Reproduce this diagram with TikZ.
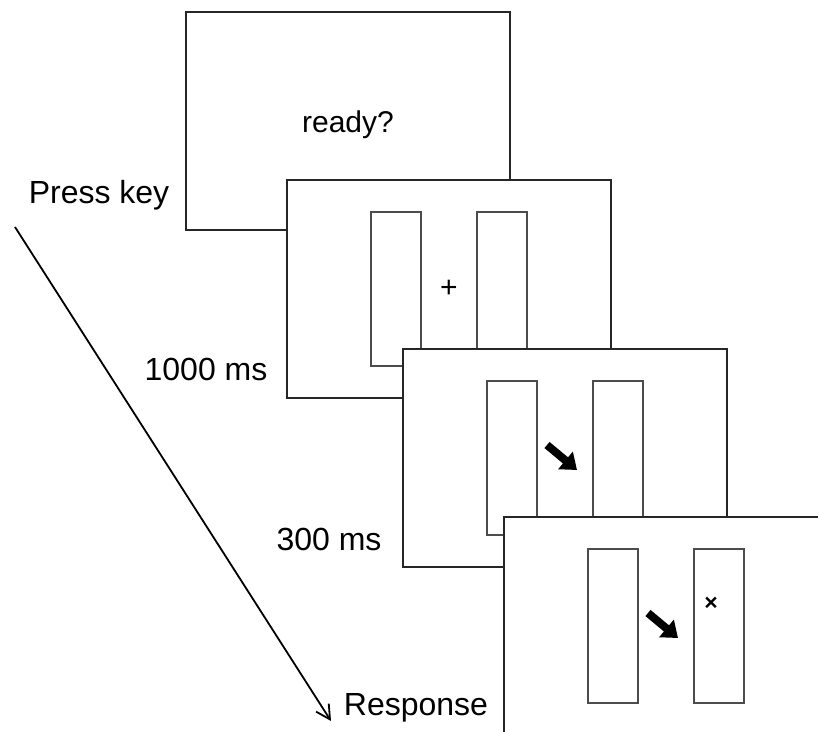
\documentclass[tikz,border=0pt]{standalone}
\usepackage{fontspec}
\setmainfont{Liberation Sans}
\usepackage{tikz}
\usetikzlibrary{arrows.meta}

\begin{document}
\begin{tikzpicture}[x=1pt, y=-1pt,
  screen/.style={draw=black!85, line width=1.7pt, fill=white, minimum width=324pt, minimum height=218pt, inner sep=0pt},
  bar/.style={draw=black!70, line width=1.2pt, minimum width=50pt, minimum height=154pt, inner sep=0pt},
  cue/.style={line width=8pt, -{Triangle[length=15pt,width=22pt]}},
  lbl/.style={font=\fontsize{32}{38}\selectfont, anchor=base}]
  \useasboundingbox (0,0) rectangle (818,731);
  \clip (0,0) rectangle (818,731);
  \node[screen] (s1) at (348,121) {};
  \node[font=\fontsize{30}{36}\selectfont, anchor=base] (ready) at ([yshift=-11pt]s1.center) {ready?};
  \node[screen] (s2) at (449,289) {};
  \node[bar] (b2l) at ([xshift=-53pt]s2.center) {}; \node[bar] (b2r) at ([xshift=53pt]s2.center) {};
  \node[font=\fontsize{30}{34}\selectfont] (fix) at (s2.center) {+};
  \node[screen] (s3) at (565,458) {};
  \node[bar] (b3l) at ([xshift=-53pt]s3.center) {}; \node[bar] (b3r) at ([xshift=53pt]s3.center) {};
  \draw[cue] ([xshift=-18pt,yshift=13pt]s3.center) -- ([xshift=12pt,yshift=-12pt]s3.center);
  \node[screen] (s4) at (666,626) {};
  \node[bar] (b4l) at ([xshift=-53pt]s4.center) {}; \node[bar] (b4r) at ([xshift=53pt]s4.center) {};
  \draw[cue] ([xshift=-18pt,yshift=13pt]s4.center) -- ([xshift=12pt,yshift=-12pt]s4.center);
  \node[font=\fontsize{23}{25}\selectfont\bfseries] (err) at ([xshift=45pt,yshift=22pt]s4.center) {×};
  \node[lbl] (press) at (99,203) {Press key};
  \node[lbl] (t1000) at (206,380) {1000 ms};
  \node[lbl] (t300) at (329,550) {300 ms};
  \node[lbl] (resp) at (416,715) {Response};
  \coordinate (t0) at (15,227); \coordinate (t1) at (331,721);
  \draw[line width=1.8pt, -{Straight Barb[length=14pt,width=15pt]}] (t0) -- (t1);
\end{tikzpicture}
\end{document}
